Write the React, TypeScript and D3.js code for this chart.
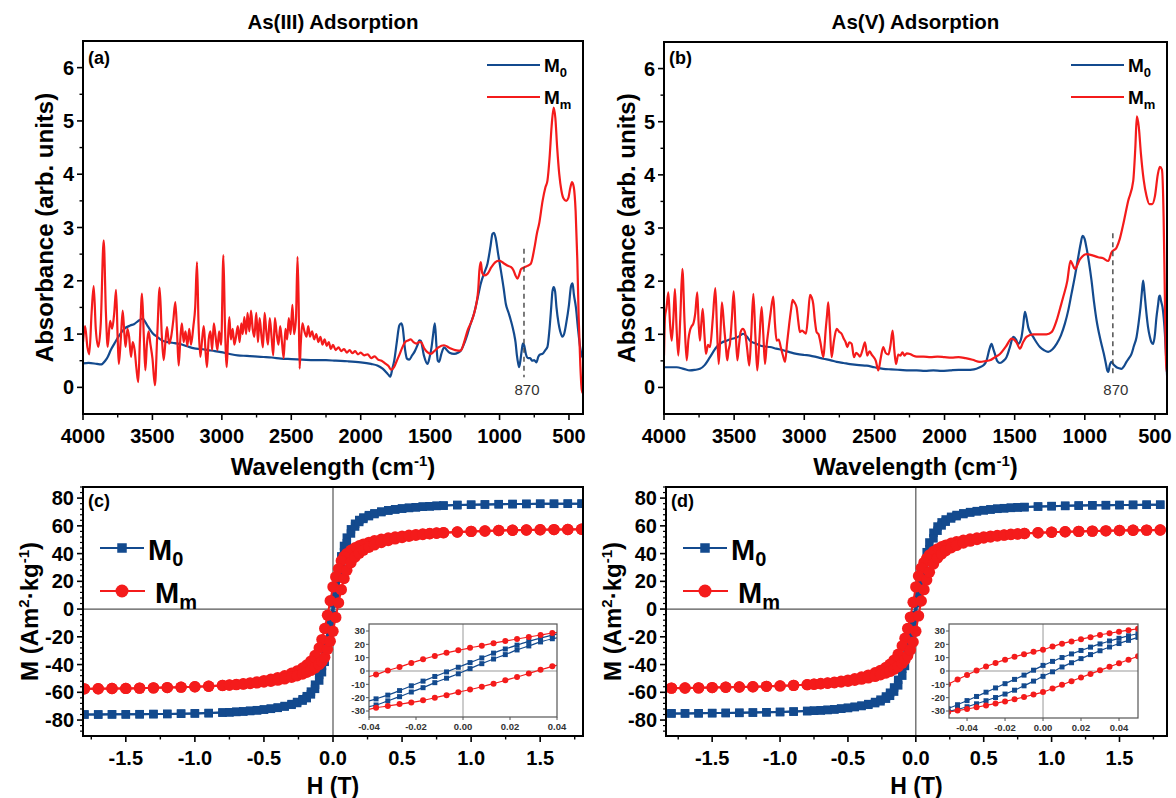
import React from "react";
import * as d3 from "d3";

type Pt = [number, number];

const FONT = "'Liberation Sans', Arial, Helvetica, sans-serif";
const BLUE = "#134a8e";
const RED = "#f41b1b";

// ---------- FTIR data (wavenumber cm-1, absorbance) ----------
const ftirA_M0: Pt[] = [
  [4000, 0.45], [3960, 0.46], [3900, 0.44], [3870, 0.43], [3840, 0.5], [3822, 0.57], [3800, 0.7], [3774, 0.82],
  [3740, 0.97], [3702, 1.1], [3660, 1.16], [3630, 1.19], [3600, 1.25], [3570, 1.29], [3550, 1.22], [3534, 1.15],
  [3500, 1.02], [3462, 0.94], [3430, 0.88], [3390, 0.85], [3340, 0.83], [3294, 0.81], [3250, 0.77], [3198, 0.73],
  [3150, 0.72], [3102, 0.7], [3050, 0.68], [3006, 0.66], [2950, 0.63], [2886, 0.6], [2820, 0.59], [2766, 0.58],
  [2700, 0.57], [2640, 0.56], [2574, 0.54], [2500, 0.53], [2420, 0.52], [2334, 0.51], [2250, 0.51], [2180, 0.5],
  [2094, 0.49], [2000, 0.47], [1926, 0.44], [1880, 0.41], [1842, 0.35], [1815, 0.28], [1795, 0.22], [1787, 0.2],
  [1772, 0.35], [1758, 0.51], [1740, 0.85], [1722, 1.16], [1708, 1.2], [1698, 1.13], [1680, 0.7], [1667, 0.54],
  [1650, 0.52], [1630, 0.6], [1610, 0.68], [1590, 0.8], [1578, 0.88], [1567, 0.87], [1545, 0.6], [1519, 0.44],
  [1505, 0.55], [1490, 0.75], [1478, 1.0], [1466, 1.2], [1455, 0.8], [1445, 0.5], [1435, 0.48], [1420, 0.62],
  [1399, 0.75], [1380, 0.7], [1360, 0.65], [1327, 0.63], [1300, 0.65], [1279, 0.69], [1255, 0.82], [1231, 1.0],
  [1210, 1.18], [1183, 1.39], [1160, 1.65], [1135, 1.95], [1110, 2.15], [1087, 2.32], [1065, 2.65], [1051, 2.88],
  [1040, 2.9], [1027, 2.79], [1010, 2.5], [991, 2.2], [970, 1.85], [955, 1.57], [935, 1.4], [919, 1.26],
  [905, 1.12], [895, 1.0], [885, 0.85], [875, 0.6], [866, 0.45], [859, 0.38], [850, 0.5], [840, 0.7],
  [832, 0.82], [823, 0.79], [810, 0.62], [795, 0.55], [780, 0.55], [765, 0.5], [751, 0.51], [735, 0.47],
  [720, 0.58], [705, 0.62], [690, 0.63], [670, 0.7], [655, 0.76], [640, 1.1], [628, 1.5], [619, 1.8],
  [610, 1.88], [600, 1.8], [590, 1.5], [575, 1.2], [563, 1.05], [548, 0.95], [534, 1.01], [520, 1.2],
  [500, 1.55], [485, 1.9], [474, 1.95], [465, 1.75], [450, 1.5], [435, 1.1], [420, 0.76], [408, 0.6], [399, 0.55],
];

const ftirA_Mm: Pt[] = [
  [4000, 0.85], [3985, 1.15], [3968, 0.75], [3955, 0.62], [3938, 1.4], [3923, 1.9], [3908, 1.1], [3890, 0.76],
  [3872, 1.2], [3851, 2.76], [3835, 1.4], [3822, 0.76], [3805, 1.25], [3790, 1.1], [3775, 1.4], [3762, 1.83],
  [3750, 0.9], [3742, 0.44], [3728, 0.9], [3714, 1.44], [3702, 1.0], [3693, 0.76], [3680, 1.1], [3668, 0.95],
  [3654, 0.57], [3642, 0.85], [3628, 0.7], [3615, 0.35], [3602, 0.1], [3590, 0.9], [3575, 1.76], [3562, 0.95],
  [3551, 0.32], [3540, 0.8], [3528, 1.05], [3515, 0.82], [3500, 0.55], [3482, 0.04], [3465, 1.0], [3448, 1.87],
  [3432, 0.95], [3419, 0.51], [3405, 0.9], [3395, 1.13], [3380, 0.82], [3365, 0.95], [3350, 1.25], [3335, 1.6],
  [3322, 1.0], [3311, 0.41], [3298, 0.95], [3288, 1.2], [3275, 0.85], [3262, 1.05], [3248, 0.78], [3235, 1.1],
  [3222, 0.8], [3205, 1.15], [3192, 1.5], [3179, 2.35], [3168, 1.2], [3155, 0.57], [3142, 0.9], [3130, 1.15],
  [3118, 0.7], [3107, 0.38], [3095, 0.9], [3082, 1.05], [3070, 0.7], [3058, 1.2], [3045, 0.95], [3032, 0.7],
  [3020, 1.05], [3005, 0.8], [2989, 2.48], [2978, 1.2], [2965, 0.38], [2955, 0.95], [2946, 1.32], [2935, 0.9],
  [2922, 1.1], [2910, 0.8], [2898, 0.95], [2885, 1.15], [2872, 0.85], [2860, 1.2], [2850, 1.0], [2838, 1.32],
  [2825, 1.0], [2815, 1.4], [2802, 1.05], [2790, 1.44], [2778, 1.1], [2766, 0.95], [2752, 1.4], [2740, 0.85],
  [2728, 1.3], [2716, 1.0], [2704, 0.75], [2692, 1.4], [2680, 1.05], [2668, 0.8], [2655, 1.3], [2642, 0.95],
  [2630, 0.6], [2618, 1.3], [2605, 1.0], [2592, 0.8], [2580, 1.15], [2567, 0.85], [2555, 0.55], [2542, 1.1],
  [2530, 0.9], [2518, 1.3], [2505, 1.0], [2492, 1.55], [2480, 1.0], [2466, 1.3], [2455, 2.45], [2447, 1.6],
  [2440, 0.35], [2432, 0.8], [2420, 1.2], [2405, 1.05], [2390, 0.95], [2378, 1.15], [2365, 0.95], [2350, 1.05],
  [2335, 0.9], [2320, 1.0], [2305, 0.85], [2290, 0.95], [2275, 0.8], [2260, 0.9], [2245, 0.78], [2230, 0.85],
  [2215, 0.72], [2200, 0.8], [2180, 0.7], [2160, 0.75], [2140, 0.68], [2120, 0.72], [2100, 0.65], [2080, 0.7],
  [2060, 0.64], [2040, 0.68], [2020, 0.62], [2000, 0.65], [1975, 0.6], [1950, 0.62], [1925, 0.55], [1900, 0.58],
  [1875, 0.52], [1850, 0.5], [1825, 0.45], [1800, 0.4], [1780, 0.33], [1760, 0.38], [1740, 0.5], [1720, 0.62],
  [1700, 0.75], [1680, 0.85], [1660, 0.88], [1640, 0.9], [1620, 0.85], [1600, 0.82], [1580, 0.85], [1567, 0.85],
  [1540, 0.72], [1520, 0.66], [1495, 0.63], [1470, 0.68], [1440, 0.75], [1400, 0.79], [1360, 0.74], [1320, 0.7],
  [1279, 0.69], [1255, 0.85], [1230, 1.07], [1200, 1.25], [1183, 1.39], [1165, 1.6], [1154, 1.82], [1145, 2.2],
  [1135, 2.35], [1125, 2.15], [1111, 2.1], [1087, 2.13], [1060, 2.25], [1030, 2.35], [1003, 2.38], [970, 2.33],
  [940, 2.28], [919, 2.26], [900, 2.2], [885, 2.1], [871, 2.04], [860, 2.1], [845, 2.22], [823, 2.25],
  [800, 2.28], [775, 2.32], [750, 2.6], [730, 2.9], [715, 3.07], [690, 3.5], [670, 3.75], [655, 3.88],
  [640, 4.3], [625, 4.9], [610, 5.25], [598, 5.05], [585, 4.5], [570, 4.0], [555, 3.7], [540, 3.55],
  [520, 3.5], [505, 3.55], [490, 3.75], [478, 3.85], [465, 3.75], [452, 3.3], [440, 2.4], [430, 1.3],
  [418, 0.4], [405, -0.1], [399, -0.1],
];

const ftirB_M0: Pt[] = [
  [4000, 0.38], [3950, 0.38], [3910, 0.38], [3860, 0.35], [3815, 0.32], [3780, 0.33], [3744, 0.35], [3710, 0.42],
  [3672, 0.57], [3625, 0.76], [3590, 0.84], [3553, 0.88], [3520, 0.91], [3482, 0.94], [3460, 0.97], [3435, 1.01],
  [3410, 0.96], [3387, 0.88], [3350, 0.83], [3316, 0.79], [3280, 0.77], [3245, 0.76], [3200, 0.73], [3150, 0.7],
  [3100, 0.66], [3055, 0.63], [3000, 0.61], [2959, 0.6], [2910, 0.57], [2864, 0.54], [2810, 0.51], [2769, 0.48],
  [2720, 0.46], [2674, 0.44], [2610, 0.42], [2555, 0.41], [2500, 0.38], [2437, 0.35], [2380, 0.34], [2318, 0.33],
  [2250, 0.32], [2199, 0.32], [2140, 0.31], [2080, 0.32], [2020, 0.31], [1961, 0.32], [1900, 0.33], [1843, 0.33],
  [1790, 0.34], [1748, 0.38], [1720, 0.42], [1700, 0.51], [1680, 0.72], [1665, 0.82], [1652, 0.72], [1641, 0.63],
  [1625, 0.5], [1605, 0.46], [1580, 0.5], [1558, 0.57], [1535, 0.75], [1510, 0.95], [1490, 0.9], [1475, 0.82],
  [1463, 0.85], [1451, 0.95], [1440, 1.15], [1427, 1.42], [1415, 1.3], [1403, 1.13], [1385, 1.02], [1368, 0.95],
  [1345, 0.85], [1320, 0.76], [1290, 0.7], [1261, 0.67], [1230, 0.72], [1201, 0.82], [1170, 0.98], [1142, 1.2],
  [1118, 1.45], [1095, 1.76], [1070, 2.1], [1047, 2.45], [1030, 2.7], [1016, 2.85], [1002, 2.8], [988, 2.63],
  [970, 2.35], [952, 2.01], [934, 1.6], [916, 1.26], [905, 1.1], [893, 0.95], [878, 0.78], [864, 0.63],
  [850, 0.45], [840, 0.32], [833, 0.29], [822, 0.42], [810, 0.48], [792, 0.42], [774, 0.38], [756, 0.36],
  [738, 0.35], [720, 0.4], [703, 0.48], [685, 0.55], [667, 0.63], [650, 0.78], [631, 0.95], [617, 1.2],
  [603, 1.51], [593, 1.8], [584, 2.01], [575, 1.8], [565, 1.51], [550, 1.15], [536, 0.95], [525, 0.85],
  [513, 0.82], [500, 1.0], [490, 1.3], [477, 1.57], [471, 1.7], [465, 1.73], [456, 1.62], [446, 1.51],
  [437, 1.3], [429, 1.01], [420, 0.55], [413, 0.2],
];

const ftirB_Mm: Pt[] = [
  [4000, 0.6], [3993, 1.32], [3982, 1.5], [3969, 1.79], [3957, 1.2], [3945, 0.88], [3933, 1.3], [3922, 1.85],
  [3910, 1.1], [3898, 0.6], [3884, 1.3], [3869, 2.23], [3853, 1.2], [3838, 0.51], [3826, 0.9], [3815, 1.07],
  [3803, 1.15], [3791, 1.2], [3777, 1.4], [3763, 1.79], [3753, 1.2], [3744, 0.88], [3734, 1.2], [3724, 1.48],
  [3712, 1.0], [3701, 0.63], [3686, 0.8], [3672, 0.76], [3652, 1.3], [3634, 1.87], [3622, 1.1], [3610, 0.44],
  [3598, 1.0], [3587, 1.6], [3572, 1.16], [3560, 0.8], [3549, 0.51], [3540, 0.7], [3530, 0.82], [3516, 1.3],
  [3503, 1.81], [3490, 1.1], [3477, 0.51], [3465, 0.8], [3454, 1.04], [3438, 1.1], [3423, 1.04], [3408, 0.75],
  [3392, 0.41], [3378, 1.0], [3363, 1.76], [3349, 1.0], [3335, 0.32], [3320, 0.9], [3304, 1.51], [3292, 1.0],
  [3280, 0.44], [3268, 0.8], [3256, 1.07], [3240, 1.4], [3221, 1.71], [3209, 1.2], [3197, 0.88], [3182, 0.9],
  [3167, 0.75], [3152, 0.6], [3137, 0.48], [3122, 0.85], [3107, 1.2], [3095, 1.45], [3083, 1.65], [3070, 1.6],
  [3055, 1.51], [3043, 1.25], [3031, 1.04], [3015, 1.07], [2998, 1.03], [2988, 1.01], [2973, 1.35], [2959, 1.74],
  [2948, 1.7], [2936, 1.57], [2924, 1.25], [2912, 1.04], [2898, 1.0], [2885, 0.85], [2864, 0.57], [2855, 0.8],
  [2848, 1.06], [2838, 1.35], [2829, 1.6], [2817, 1.1], [2805, 0.57], [2790, 0.85], [2769, 1.1], [2752, 1.05],
  [2734, 1.01], [2717, 0.91], [2705, 0.85], [2693, 0.76], [2679, 0.85], [2662, 0.82], [2646, 0.57], [2630, 0.65],
  [2615, 0.62], [2603, 0.58], [2585, 0.7], [2567, 0.85], [2551, 0.6], [2535, 0.68], [2520, 0.62], [2508, 0.58],
  [2490, 0.5], [2472, 0.32], [2455, 0.55], [2437, 0.76], [2420, 0.65], [2400, 0.62], [2385, 0.8], [2370, 1.07],
  [2358, 0.7], [2346, 0.44], [2330, 0.62], [2315, 0.6], [2300, 0.66], [2285, 0.6], [2270, 0.64], [2247, 0.63],
  [2225, 0.6], [2199, 0.58], [2150, 0.58], [2100, 0.57], [2050, 0.58], [2000, 0.57], [1950, 0.56], [1900, 0.57],
  [1850, 0.55], [1800, 0.52], [1748, 0.48], [1700, 0.5], [1677, 0.51], [1640, 0.57], [1605, 0.63], [1560, 0.78],
  [1522, 0.92], [1487, 0.85], [1463, 0.73], [1440, 0.85], [1415, 0.95], [1368, 1.0], [1320, 1.0], [1273, 1.0],
  [1237, 1.04], [1201, 1.26], [1175, 1.5], [1154, 1.7], [1125, 2.0], [1102, 2.38], [1085, 2.3], [1071, 2.23],
  [1035, 2.41], [988, 2.51], [940, 2.48], [905, 2.45], [869, 2.43], [833, 2.38], [810, 2.54], [774, 2.63],
  [750, 2.8], [726, 3.07], [691, 3.51], [655, 3.88], [640, 4.5], [629, 5.1], [615, 4.9], [600, 4.4],
  [580, 3.9], [560, 3.6], [540, 3.45], [520, 3.45], [500, 3.6], [480, 4.0], [465, 4.15], [450, 4.1],
  [438, 3.2], [428, 1.5], [418, 0.3], [405, 0.3],
];

const ftirXTicks = [4000, 3500, 3000, 2500, 2000, 1500, 1000, 500];
const ftirYTicks = [0, 1, 2, 3, 4, 5, 6];
const markerA = { w: 824, top: 2.6, bottom: 0.19, label: "870" };
const markerB = { w: 800, top: 2.9, bottom: 0.19, label: "870" };

// ---------- Hysteresis data (H in T, M in Am2/kg) ----------
const hPos = [0.02, 0.04, 0.06, 0.08, 0.1, 0.13, 0.16, 0.19, 0.22, 0.26, 0.3, 0.35, 0.4, 0.45, 0.5, 0.55,
  0.6, 0.65, 0.7, 0.75, 0.8, 0.9, 1.0, 1.1, 1.2, 1.3, 1.4, 1.5, 1.6, 1.7, 1.8];

const c_M0_up = [16.6, 28.0, 38.0, 45.5, 51.5, 57.5, 61.5, 64.2, 66.0, 67.7, 69.0, 70.3, 71.2, 71.9, 72.5, 73.0,
  73.4, 73.8, 74.1, 74.4, 74.6, 75.0, 75.2, 75.4, 75.6, 75.7, 75.8, 75.9, 75.9, 76.0, 76.0];
const c_M0_lo = [9.4, 22.5, 33.0, 41.0, 47.5, 54.5, 59.5, 62.8, 65.0, 67.0, 68.5, 69.9, 71.0, 71.8, 72.4, 72.9,
  73.4, 73.8, 74.1, 74.4, 74.6, 75.0, 75.2, 75.4, 75.6, 75.7, 75.8, 75.9, 75.9, 76.0, 76.0];
const c_M0_rem = 4.1;
const c_Mm_up = [23.2, 29.0, 34.8, 37.8, 40.0, 42.4, 44.2, 45.6, 46.8, 48.1, 49.2, 50.3, 51.2, 52.0, 52.6, 53.2,
  53.7, 54.1, 54.5, 54.8, 55.1, 55.6, 56.0, 56.3, 56.6, 56.8, 57.0, 57.2, 57.3, 57.4, 57.5];
const c_Mm_lo = [-6.0, 4.5, 14.0, 22.0, 28.0, 33.5, 37.5, 40.3, 42.5, 44.6, 46.3, 48.0, 49.4, 50.6, 51.6, 52.5,
  53.2, 53.8, 54.3, 54.7, 55.0, 55.6, 56.0, 56.3, 56.6, 56.8, 57.0, 57.2, 57.3, 57.4, 57.5];
const c_Mm_rem = 16.0;

const d_M0_up = [15.5, 24.3, 33.0, 41.0, 48.0, 55.0, 59.5, 62.5, 64.6, 66.5, 67.8, 69.0, 69.9, 70.6, 71.3, 71.8,
  72.3, 72.7, 73.0, 73.3, 73.5, 73.9, 74.2, 74.4, 74.6, 74.8, 74.9, 75.0, 75.1, 75.2, 75.2];
const d_M0_lo = [9.3, 20.6, 28.0, 36.0, 43.0, 51.0, 56.5, 60.3, 63.0, 65.3, 67.0, 68.5, 69.6, 70.5, 71.2, 71.8,
  72.3, 72.7, 73.0, 73.3, 73.5, 73.9, 74.2, 74.4, 74.6, 74.8, 74.9, 75.0, 75.1, 75.2, 75.2];
const d_M0_rem = 4.2;
const d_Mm_up = [23.8, 29.5, 33.5, 36.5, 39.0, 41.5, 43.4, 44.9, 46.1, 47.4, 48.5, 49.6, 50.5, 51.3, 52.0, 52.6,
  53.1, 53.5, 53.9, 54.2, 54.5, 55.0, 55.4, 55.7, 56.0, 56.2, 56.4, 56.6, 56.8, 56.9, 57.0];
const d_Mm_lo = [-4.9, 5.8, 14.0, 21.0, 26.5, 32.5, 36.8, 39.8, 42.0, 44.2, 45.9, 47.6, 49.0, 50.2, 51.2, 52.0,
  52.7, 53.3, 53.7, 54.1, 54.5, 55.0, 55.4, 55.7, 56.0, 56.2, 56.4, 56.6, 56.8, 56.9, 57.0];
const d_Mm_rem = 16.0;

// insets (low-field zoom)
const insetC_H = [-0.042, -0.037, -0.032, -0.027, -0.022, -0.017, -0.012, -0.007, -0.002, 0.003, 0.008, 0.013,
  0.018, 0.023, 0.028, 0.033, 0.038, 0.043];
const insetC_M0_up = [-23.5, -20.9, -18.1, -14.7, -11.1, -7.6, -4.1, -0.7, 2.8, 6.3, 9.8, 13.4, 16.5, 19.4, 22.2, 24.7, 26.9, 28.5];
const insetC_M0_lo = [-27.4, -25.5, -22.4, -19.25, -15.75, -12.5, -8.75, -5.4, -2.1, 1.8, 5.5, 9.0, 12.3, 15.8, 18.8, 21.8, 24.2, 25.8];
const insetC_Mm_up = [-5.3, -2.6, 0.4, 3.0, 6.0, 8.75, 11.25, 13.6, 15.5, 17.4, 19.0, 20.9, 22.5, 24.0, 25.5, 27.0, 28.5, 29.8];
const insetC_Mm_lo = [-29.5, -27.6, -26.3, -24.8, -23.6, -22.0, -20.1, -18.1, -15.9, -13.9, -11.8, -9.5, -7.0, -4.5, -1.9, 0.9, 3.5, 5.9];

const insetD_H = [-0.055, -0.05, -0.045, -0.04, -0.035, -0.03, -0.025, -0.02, -0.015, -0.01, -0.005, 0, 0.005,
  0.01, 0.015, 0.02, 0.025, 0.03, 0.035, 0.04, 0.045, 0.05, 0.055];
const insetD_M0_up = [-31.0, -28.2, -25.3, -22.2, -19.1, -15.9, -12.7, -9.5, -6.3, -3.1, 0.6, 4.2, 7.2, 10.1, 12.8,
  15.4, 17.9, 20.3, 22.5, 24.5, 26.4, 28.0, 29.5];
const insetD_M0_lo = [-32.0, -30.3, -28.8, -26.8, -24.6, -22.3, -19.9, -17.3, -14.4, -11.1, -7.6, -4.0, -0.6, 3.0,
  6.2, 9.3, 12.3, 15.2, 18.0, 20.6, 23.0, 25.2, 27.3];
const insetD_Mm_up = [-13.8, -10.0, -6.4, -3.0, 0.4, 3.3, 6.0, 8.5, 10.7, 12.6, 14.4, 16.0, 18.3, 20.5, 22.2, 23.8,
  25.4, 27.0, 28.3, 29.5, 30.6, 31.7, 32.7];
const insetD_Mm_lo = [-31.8, -30.8, -29.7, -28.5, -27.2, -25.8, -24.3, -22.8, -21.2, -19.5, -17.7, -15.8, -13.1,
  -10.4, -7.6, -4.9, -2.2, 0.5, 3.2, 5.8, 8.4, 11.0, 13.5];

const hystXTicks = [-1.5, -1.0, -0.5, 0, 0.5, 1.0, 1.5];
const hystYTicks = [-80, -60, -40, -20, 0, 20, 40, 60, 80];
const insetXTicks = [-0.04, -0.02, 0, 0.02, 0.04];
const insetYTicks = [-30, -20, -10, 0, 10, 20, 30];

// ---------- helpers ----------
function loopBranches(up: number[], lo: number[], rem: number): Pt[][] {
  const n = hPos.length;
  const desc: Pt[] = [];
  for (let i = n - 1; i >= 0; i--) desc.push([hPos[i], up[i]]);
  desc.push([0, rem]);
  for (let i = 0; i < n; i++) desc.push([-hPos[i], -lo[i]]);
  const asc: Pt[] = desc.map(([h, m]) => [-h, -m] as Pt);
  return [desc, asc];
}

function zip(xs: number[], ys: number[]): Pt[] {
  return xs.map((x, i) => [x, ys[i]] as Pt);
}

const TICK_FS = 20;
const LABEL_FS = 24;

// ---------- FTIR panel ----------
function SpectrumPanel(props: any) {
  const { id, left, right, top, bottom, wMin, title, tag, blue, red, marker, yLabelX } = props;
  const x = d3.scaleLinear().domain([4000, wMin]).range([left, right]);
  const y = d3.scaleLinear().domain([-0.5, 6.5]).range([bottom, top]);
  const line = d3.line<Pt>().x((d) => x(d[0])).y((d) => y(d[1])).curve(d3.curveMonotoneX);
  const minorX = d3.range(3750, 400, -500);
  const minorY = d3.range(0.5, 6.5, 1);
  const cx = (left + right) / 2;
  return (
    <g>
      <defs>
        <clipPath id={id}>
          <rect x={left} y={top} width={right - left} height={bottom - top} />
        </clipPath>
      </defs>
      <text x={cx} y={29} textAnchor="middle" fontSize={20.5} fontWeight="bold">{title}</text>
      <g clipPath={`url(#${id})`}>
        <path d={line(blue) || ""} fill="none" stroke={BLUE} strokeWidth={2.2} strokeLinejoin="round" />
        <path d={line(red) || ""} fill="none" stroke={RED} strokeWidth={2.2} strokeLinejoin="round" />
      </g>
      <line x1={x(marker.w)} x2={x(marker.w)} y1={y(marker.top)} y2={y(marker.bottom)} stroke="#444"
        strokeWidth={1.4} strokeDasharray="5,4" />
      <text x={x(marker.w) + 3} y={395} textAnchor="middle" fontSize={15} fill="#333">{marker.label}</text>
      <rect x={left} y={top} width={right - left} height={bottom - top} fill="none" stroke="#000" strokeWidth={2} />
      {ftirYTicks.map((t) => (
        <g key={"y" + t}>
          <line x1={left - 6} x2={left} y1={y(t)} y2={y(t)} stroke="#000" strokeWidth={1.6} />
          <text x={left - 9} y={y(t)} dy="0.35em" textAnchor="end" fontSize={TICK_FS} fontWeight="bold">{t}</text>
        </g>
      ))}
      {minorY.map((t) => (
        <line key={"my" + t} x1={left - 3.5} x2={left} y1={y(t)} y2={y(t)} stroke="#000" strokeWidth={1.4} />
      ))}
      {ftirXTicks.map((t) => (
        <g key={"x" + t}>
          <line x1={x(t)} x2={x(t)} y1={bottom} y2={bottom + 6} stroke="#000" strokeWidth={1.6} />
          <text x={x(t)} y={bottom + 29} textAnchor="middle" fontSize={TICK_FS} fontWeight="bold">{t}</text>
        </g>
      ))}
      {minorX.map((t) => (
        <line key={"mx" + t} x1={x(t)} x2={x(t)} y1={bottom} y2={bottom + 3.5} stroke="#000" strokeWidth={1.4} />
      ))}
      <text x={cx} y={475} textAnchor="middle" fontSize={LABEL_FS} fontWeight="bold">
        Wavelength (cm<tspan dy={-9} fontSize={15}>-1</tspan><tspan dy={9}>)</tspan>
      </text>
      <text transform={`translate(${yLabelX},${(top + bottom) / 2}) rotate(-90)`} textAnchor="middle" fontSize={LABEL_FS}
        fontWeight="bold">Absorbance (arb. units)</text>
      <text x={left + 5} y={64} fontSize={18} fontWeight="bold">{tag}</text>
      {/* legend */}
      <line x1={right - 96} x2={right - 43} y1={65} y2={65} stroke={BLUE} strokeWidth={2.2} />
      <text x={right - 39} y={72} fontSize={19} fontWeight="bold">M<tspan dy={5} fontSize={13}>0</tspan></text>
      <line x1={right - 96} x2={right - 43} y1={97} y2={97} stroke={RED} strokeWidth={2.2} />
      <text x={right - 39} y={104} fontSize={19} fontWeight="bold">M<tspan dy={5} fontSize={13}>m</tspan></text>
    </g>
  );
}

// ---------- Hysteresis panel ----------
function Square({ cx, cy, s, fill }: any) {
  return <rect x={cx - s / 2} y={cy - s / 2} width={s} height={s} fill={fill} />;
}

function HystPanel(props: any) {
  const { id, left, right, top, bottom, xDom, yDom, tag, m0, mm, inset, yLabelX, legX } = props;
  const x = d3.scaleLinear().domain(xDom).range([left, right]);
  const y = d3.scaleLinear().domain(yDom).range([bottom, top]);
  const line = d3.line<Pt>().x((d) => x(d[0])).y((d) => y(d[1]));
  const minorX = d3.range(-1.75, 1.8, 0.5);
  const minorY = d3.range(-88, 88.1, 4).filter((v) => v % 20 !== 0);
  const cx = (left + right) / 2;

  const ix = d3.scaleLinear().domain(inset.xDom).range([inset.left, inset.right]);
  const iy = d3.scaleLinear().domain(inset.yDom).range([inset.bottom, inset.top]);
  const iline = d3.line<Pt>().x((d) => ix(d[0])).y((d) => iy(d[1])).curve(d3.curveMonotoneX);

  return (
    <g>
      <defs>
        <clipPath id={id}>
          <rect x={left} y={top} width={right - left} height={bottom - top} />
        </clipPath>
        <clipPath id={id + "i"}>
          <rect x={inset.left} y={inset.top} width={inset.right - inset.left} height={inset.bottom - inset.top} />
        </clipPath>
      </defs>
      <line x1={x(0)} x2={x(0)} y1={top} y2={bottom} stroke="#555" strokeWidth={1.2} />
      <line x1={left} x2={right} y1={y(0)} y2={y(0)} stroke="#555" strokeWidth={1.2} />
      <g clipPath={`url(#${id})`}>
        {m0.map((br: Pt[], k: number) => (
          <g key={"b" + k}>
            <path d={line(br) || ""} fill="none" stroke={BLUE} strokeWidth={2} />
            {br.map((p, i) => <Square key={i} cx={x(p[0])} cy={y(p[1])} s={8.5} fill={BLUE} />)}
          </g>
        ))}
        {mm.map((br: Pt[], k: number) => (
          <g key={"r" + k}>
            <path d={line(br) || ""} fill="none" stroke={RED} strokeWidth={2} />
            {br.map((p, i) => <circle key={i} cx={x(p[0])} cy={y(p[1])} r={5.7} fill={RED} />)}
          </g>
        ))}
      </g>
      <rect x={left} y={top} width={right - left} height={bottom - top} fill="none" stroke="#000" strokeWidth={2} />
      {hystYTicks.map((t) => (
        <g key={"y" + t}>
          <line x1={left - 6} x2={left} y1={y(t)} y2={y(t)} stroke="#000" strokeWidth={1.6} />
          <text x={left - 9} y={y(t)} dy="0.35em" textAnchor="end" fontSize={TICK_FS} fontWeight="bold">{t}</text>
        </g>
      ))}
      {minorY.map((t) => (
        <line key={"my" + t} x1={left - 3} x2={left} y1={y(t)} y2={y(t)} stroke="#000" strokeWidth={1.2} />
      ))}
      {hystXTicks.map((t) => (
        <g key={"x" + t}>
          <line x1={x(t)} x2={x(t)} y1={bottom} y2={bottom + 6} stroke="#000" strokeWidth={1.6} />
          <text x={x(t)} y={bottom + 29} textAnchor="middle" fontSize={TICK_FS} fontWeight="bold">{t.toFixed(1)}</text>
        </g>
      ))}
      {minorX.map((t) => (
        <line key={"mx" + t} x1={x(t)} x2={x(t)} y1={bottom} y2={bottom + 3.5} stroke="#000" strokeWidth={1.4} />
      ))}
      <text x={cx} y={794} textAnchor="middle" fontSize={23} fontWeight="bold">H (T)</text>
      <text transform={`translate(${yLabelX},${(top + bottom) / 2}) rotate(-90)`} textAnchor="middle" fontSize={24}
        fontWeight="bold">
        M (Am<tspan dy={-9} fontSize={15}>2</tspan><tspan dy={9}>·kg</tspan><tspan dy={-9} fontSize={15}>-1</tspan><tspan dy={9}>)</tspan>
      </text>
      <text x={left + 5} y={507} fontSize={18} fontWeight="bold">{tag}</text>
      {/* legend */}
      <line x1={legX} x2={legX + 44} y1={548} y2={548} stroke={BLUE} strokeWidth={2} />
      <Square cx={legX + 22} cy={548} s={9.5} fill={BLUE} />
      <text x={legX + 48} y={560} fontSize={29} fontWeight="bold">M<tspan dy={6} fontSize={20}>0</tspan></text>
      <line x1={legX} x2={legX + 45} y1={591} y2={591} stroke={RED} strokeWidth={2} />
      <circle cx={legX + 22} cy={591} r={6.5} fill={RED} />
      <text x={legX + 55} y={603} fontSize={29} fontWeight="bold">M<tspan dy={6} fontSize={20}>m</tspan></text>

      {/* inset */}
      <rect x={inset.left} y={inset.top} width={inset.right - inset.left} height={inset.bottom - inset.top} fill="#fff" />
      <line x1={ix(0)} x2={ix(0)} y1={inset.top} y2={inset.bottom} stroke="#bbb" strokeWidth={1.5} />
      <line x1={inset.left} x2={inset.right} y1={iy(0)} y2={iy(0)} stroke="#bbb" strokeWidth={1.5} />
      <g clipPath={`url(#${id}i)`}>
        {inset.m0.map((br: Pt[], k: number) => (
          <g key={"ib" + k}>
            <path d={iline(br) || ""} fill="none" stroke={BLUE} strokeWidth={1.2} />
            {br.map((p, i) => <Square key={i} cx={ix(p[0])} cy={iy(p[1])} s={5} fill={BLUE} />)}
          </g>
        ))}
        {inset.mm.map((br: Pt[], k: number) => (
          <g key={"ir" + k}>
            <path d={iline(br) || ""} fill="none" stroke={RED} strokeWidth={1.2} />
            {br.map((p, i) => <circle key={i} cx={ix(p[0])} cy={iy(p[1])} r={3} fill={RED} />)}
          </g>
        ))}
      </g>
      <rect x={inset.left} y={inset.top} width={inset.right - inset.left} height={inset.bottom - inset.top}
        fill="none" stroke="#555" strokeWidth={1.2} />
      {insetYTicks.map((t) => (
        <g key={"iy" + t}>
          <line x1={inset.left - 3} x2={inset.left} y1={iy(t)} y2={iy(t)} stroke="#555" strokeWidth={1} />
          <text x={inset.left - 4} y={iy(t)} dy="0.35em" textAnchor="end" fontSize={9.5} fontWeight="bold"
            fill="#333">{t}</text>
        </g>
      ))}
      {insetXTicks.map((t) => (
        <g key={"ix" + t}>
          <line x1={ix(t)} x2={ix(t)} y1={inset.bottom} y2={inset.bottom + 3} stroke="#555" strokeWidth={1} />
          <text x={ix(t)} y={inset.bottom + 13} textAnchor="middle" fontSize={9.5} fontWeight="bold"
            fill="#333">{t.toFixed(2)}</text>
        </g>
      ))}
    </g>
  );
}

export default function App() {
  const c_m0 = loopBranches(c_M0_up, c_M0_lo, c_M0_rem);
  const c_mm = loopBranches(c_Mm_up, c_Mm_lo, c_Mm_rem);
  const d_m0 = loopBranches(d_M0_up, d_M0_lo, d_M0_rem);
  const d_mm = loopBranches(d_Mm_up, d_Mm_lo, d_Mm_rem);

  const insetC = {
    left: 369, right: 557, top: 624, bottom: 717, xDom: [-0.04, 0.04], yDom: [-34.5, 35.25],
    m0: [zip(insetC_H, insetC_M0_up), zip(insetC_H, insetC_M0_lo)],
    mm: [zip(insetC_H, insetC_Mm_up), zip(insetC_H, insetC_Mm_lo)],
  };
  const insetD = {
    left: 949, right: 1138, top: 624, bottom: 718, xDom: [-0.0495, 0.05], yDom: [-35.25, 35.25],
    m0: [zip(insetD_H, insetD_M0_up), zip(insetD_H, insetD_M0_lo)],
    mm: [zip(insetD_H, insetD_Mm_up), zip(insetD_H, insetD_Mm_lo)],
  };

  return (
    <svg width={1176} height={798} viewBox="0 0 1176 798"
      style={{ position: "absolute", left: 0, top: 0, background: "#fff", fontFamily: FONT }}>
      <rect x={0} y={0} width={1176} height={798} fill="#fff" />
      <SpectrumPanel id="clipA" left={83} right={583} top={41} bottom={414} wMin={399}
        title="As(III) Adsorption" tag="(a)" blue={ftirA_M0} red={ftirA_Mm} marker={markerA} yLabelX={53} />
      <SpectrumPanel id="clipB" left={664} right={1167} top={42} bottom={414} wMin={414}
        title="As(V) Adsorption" tag="(b)" blue={ftirB_M0} red={ftirB_Mm} marker={markerB} yLabelX={635} />
      <HystPanel id="clipC" left={83} right={583} top={487} bottom={736} xDom={[-1.81, 1.81]} yDom={[-91.5, 88]}
        tag="(c)" m0={c_m0} mm={c_mm} inset={insetC} yLabelX={38} legX={100} />
      <HystPanel id="clipD" left={666} right={1167} top={487} bottom={736} xDom={[-1.84, 1.85]} yDom={[-91.5, 88]}
        tag="(d)" m0={d_m0} mm={d_mm} inset={insetD} yLabelX={621} legX={683} />
    </svg>
  );
}
